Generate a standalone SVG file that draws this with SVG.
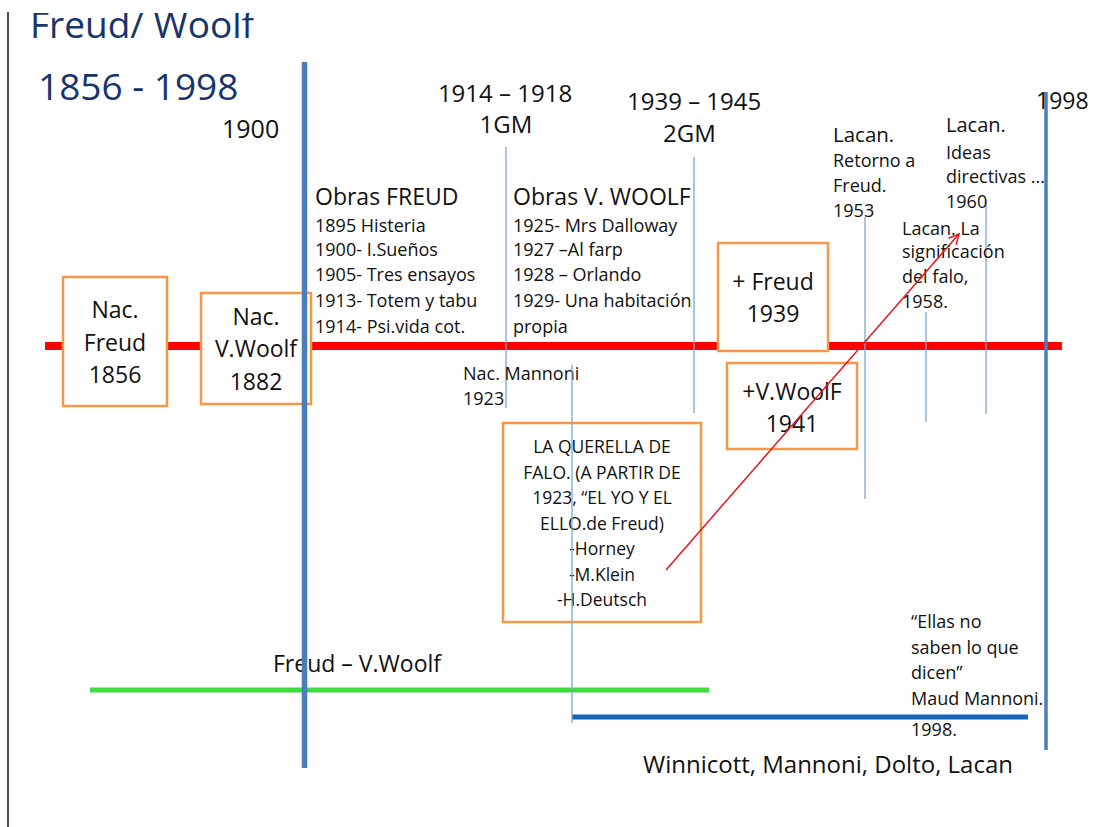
<svg xmlns="http://www.w3.org/2000/svg" width="1094" height="827" viewBox="0 0 1094 827">
<style>
text{font-family:"Open Sans","Noto Sans","DejaVu Sans",sans-serif;fill:#111}
.title{fill:#17356a}
.box{fill:#fff;stroke:#f79646;stroke-width:2.5}
.thin{stroke:#7fa6d2;stroke-width:1.3}
.s{font-size:18px}
.m{font-size:23px}
.c{text-anchor:middle}
</style>
<defs>
<clipPath id="topclip"><rect x="0" y="13" width="1094" height="814"/></clipPath>
<marker id="arr" viewBox="0 0 12 12" refX="11" refY="6" markerWidth="12" markerHeight="12" markerUnits="userSpaceOnUse" orient="auto">
<path d="M1,1 L11,6 L1,11" fill="none" stroke="#e8141a" stroke-width="1.5"/>
</marker>
</defs>
<rect width="1094" height="827" fill="#fff"/>
<line x1="8" y1="12" x2="8" y2="827" stroke="#111" stroke-width="1.5"/>
<g id="title" clip-path="url(#topclip)">
<text class="title" x="30" y="38" font-size="37">Freud/ Woolf</text>
<text class="title" x="38" y="100" font-size="37">1856 - 1998</text>
</g>
<g id="connectors">
<line x1="45" y1="346" x2="1062" y2="346" stroke="#ff0000" stroke-width="8"/>
<line class="thin" x1="506" y1="147" x2="506" y2="408"/>
<line class="thin" x1="694" y1="157" x2="694" y2="413"/>
<line class="thin" x1="865" y1="217" x2="865" y2="499"/>
<line class="thin" x1="926" y1="312" x2="926" y2="422"/>
<line class="thin" x1="986" y1="200" x2="986" y2="414"/>
<line x1="90" y1="690" x2="709" y2="690" stroke="#3ddc3d" stroke-width="5"/>
<line x1="572" y1="717" x2="1028" y2="717" stroke="#1565b8" stroke-width="5"/>
<line x1="1046" y1="92" x2="1046" y2="750" stroke="#4a7ebb" stroke-width="3.5"/>
</g>
<g id="nac-freud">
<rect class="box" x="63" y="277" width="104" height="129"/>
<text class="m c" x="115" y="318">Nac.</text>
<text class="m c" x="115" y="351">Freud</text>
<text class="m c" x="115" y="383">1856</text>
</g>
<g id="nac-woolf">
<rect class="box" x="201" y="293" width="110" height="111"/>
<text class="m c" x="256" y="325">Nac.</text>
<text class="m c" x="256" y="357">V.Woolf</text>
<text class="m c" x="256" y="390">1882</text>
</g>
<g id="label-1900"><text x="222" y="138" font-size="25">1900</text></g>
<g id="label-1gm">
<text class="c" x="505" y="102" font-size="24">1914 – 1918</text>
<text class="c" x="506" y="133" font-size="24">1GM</text>
</g>
<g id="label-2gm">
<text x="627" y="110" font-size="24">1939 – 1945</text>
<text x="663" y="142" font-size="24">2GM</text>
</g>
<g id="label-1998"><text x="1036" y="109" font-size="23">1998</text></g>
<g id="obras-freud">
<text x="315" y="205" font-size="23">Obras FREUD</text>
<text class="s" x="315" y="232">1895 Histeria</text>
<text class="s" x="315" y="256">1900- I.Sueños</text>
<text class="s" x="315" y="281">1905- Tres ensayos</text>
<text class="s" x="315" y="307">1913- Totem y tabu</text>
<text class="s" x="315" y="333">1914- Psi.vida cot.</text>
</g>
<g id="obras-woolf">
<text x="513" y="205" font-size="23">Obras V. WOOLF</text>
<text class="s" x="513" y="232">1925- Mrs Dalloway</text>
<text class="s" x="513" y="256">1927 –Al farp</text>
<text class="s" x="513" y="281">1928 – Orlando</text>
<text class="s" x="513" y="307">1929- Una habitación</text>
<text class="s" x="513" y="333">propia</text>
</g>
<g id="muerte-freud">
<rect class="box" x="718" y="243" width="110" height="108"/>
<text class="m c" x="773" y="290">+ Freud</text>
<text class="m c" x="773" y="322">1939</text>
</g>
<g id="muerte-woolf">
<rect class="box" x="727" y="363" width="130" height="86"/>
<text class="m c" x="792" y="400">+V.WoolF</text>
<text class="m c" x="792" y="432">1941</text>
</g>
<g id="nac-mannoni">
<text class="s" x="463" y="380">Nac. Mannoni</text>
<text class="s" x="463" y="405">1923</text>
</g>
<g id="querella">
<rect class="box" x="503" y="423" width="198" height="199"/>
<g font-size="17.5" text-anchor="middle">
<text x="602" y="453">LA QUERELLA DE</text>
<text x="602" y="479">FALO. (A PARTIR DE</text>
<text x="602" y="504">1923, “EL YO Y EL</text>
<text x="602" y="530">ELLO.de Freud)</text>
<text x="602" y="555">-Horney</text>
<text x="602" y="581">-M.Klein</text>
<text x="602" y="606">-H.Deutsch</text>
</g>
</g>
<g id="lacan-1953">
<text x="833" y="142" font-size="20.5">Lacan.</text>
<text class="s" x="833" y="167">Retorno a</text>
<text class="s" x="833" y="192">Freud.</text>
<text class="s" x="833" y="217">1953</text>
</g>
<g id="lacan-1960">
<text x="946" y="132" font-size="20">Lacan.</text>
<text class="s" x="946" y="159">Ideas</text>
<text class="s" x="946" y="183">directivas ...</text>
<text class="s" x="946" y="208">1960</text>
</g>
<g id="lacan-1958">
<text class="s" x="902" y="235">Lacan. La</text>
<text class="s" x="902" y="258">significación</text>
<text class="s" x="902" y="283">del falo,</text>
<text class="s" x="902" y="308">1958.</text>
</g>
<g id="label-freud-woolf"><text x="273" y="672" font-size="23">Freud – V.Woolf</text></g>
<g id="mannoni-quote">
<text class="s" x="911" y="628">“Ellas no</text>
<text class="s" x="911" y="654">saben lo que</text>
<text class="s" x="911" y="679">dicen”</text>
<text class="s" x="911" y="705">Maud Mannoni.</text>
<text class="s" x="911" y="736">1998.</text>
</g>
<g id="label-winnicott"><text x="643" y="773" font-size="24">Winnicott, Mannoni, Dolto, Lacan</text></g>
<g id="connectors-front">
<line class="thin" x1="572" y1="365" x2="572" y2="723"/>
<line x1="304.5" y1="62" x2="304.5" y2="768" stroke="#4a7ebb" stroke-width="5.5"/>
<line x1="666" y1="570" x2="959" y2="234" stroke="#e8141a" stroke-width="1.5" marker-end="url(#arr)"/>
</g>
</svg>
